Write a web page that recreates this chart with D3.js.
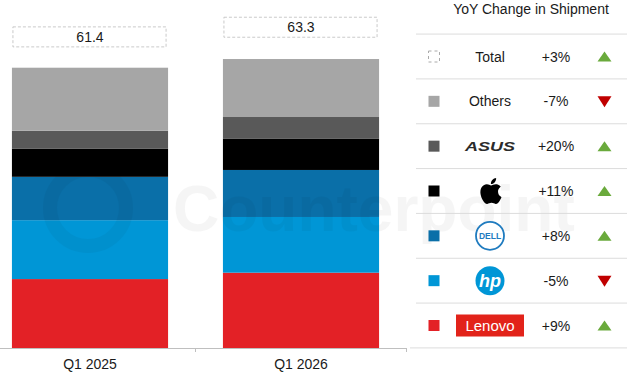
<!DOCTYPE html>
<html>
<head>
<meta charset="utf-8">
<title>PC shipments Q1</title>
<script src="https://cdn.jsdelivr.net/npm/d3@7"></script>
<style>
  body{ margin:0; background:#fff; font-family:"Liberation Sans", Arial, sans-serif; }
  svg text{ font-family:"Liberation Sans", Arial, sans-serif; }
</style>
</head>
<body>
<div id="container"></div>
<script>
// data (million units)
var quarters = ["Q1 2025", "Q1 2026"];
var vendors  = ["Lenovo", "HP", "Dell", "Apple", "ASUS", "Others"];
var q1_2025  = [15.1, 12.9, 9.5, 6.2, 3.9, 13.8];
var q1_2026  = [16.5, 12.2, 10.3, 6.9, 4.7, 12.7];
var totals   = [61.4, 63.3];
var vendorColors = ["#e32126", "#0096d6", "#0a6fa8", "#000000", "#595959", "#a6a6a6"];

// legend rows top to bottom
var legendNames  = ["Total", "Others", "ASUS", "Apple", "Dell", "HP", "Lenovo"];
var legendChange = ["+3%", "-7%", "+20%", "+11%", "+8%", "-5%", "+9%"];

var W = 627, H = 376;
var svg = d3.select("#container").append("svg")
    .attr("width", W).attr("height", H);

var x = d3.scaleBand().domain(quarters).range([-15.5, 406.5])
    .paddingInner(0.26).paddingOuter(0.13);
var y = d3.scaleLinear().domain([0, 70]).range([348, 28.45]);

// faint watermark
var wm = svg.append("g").attr("opacity", 0.035);
wm.append("circle").attr("cx", 88).attr("cy", 208).attr("r", 38)
  .attr("fill", "none").attr("stroke", "#000").attr("stroke-width", 14);
wm.append("text").attr("x", 173).attr("y", 231)
  .attr("font-size", 64).attr("font-weight", "bold").text("Counterpoint");

// stacked bars
var rows = quarters.map(function(q, i){
  var o = {quarter: q};
  var vals = i == 0 ? q1_2025 : q1_2026;
  vendors.forEach(function(v, j){ o[v] = vals[j]; });
  return o;
});
var stack = d3.stack().keys(vendors)(rows);
var color = d3.scaleOrdinal().domain(vendors).range(vendorColors);

svg.append("g").selectAll("g").data(stack).join("g")
    .attr("fill", function(d){ return color(d.key); })
  .selectAll("rect").data(function(d){ return d; }).join("rect")
    .attr("x", function(d){ return x(d.data.quarter); })
    .attr("width", x.bandwidth())
    .attr("y", function(d){ return y(d[1]); })
    .attr("height", function(d){ return y(d[0]) - y(d[1]); });

svg.select("g").raise(); // keep watermark under? (watermark drawn on top below)
wm.raise();

// total boxes
var tb = svg.append("g").selectAll("g").data(quarters).join("g")
    .attr("transform", function(d, i){ return "translate(" + x(d) + "," + y(totals[i] * 1.11) + ")"; });
tb.append("rect").attr("x", 1).attr("y", -10).attr("width", x.bandwidth() - 3).attr("height", 20)
  .attr("fill", "#fff").attr("stroke", "#bdbdbd").attr("stroke-width", 0.8)
  .attr("stroke-dasharray", "3,2");
tb.append("text").attr("x", x.bandwidth() / 2).attr("y", 5)
  .attr("text-anchor", "middle").attr("font-size", 14).attr("fill", "#1a1a1a")
  .text(function(d, i){ return totals[i]; });

// x axis
var xAxis = d3.axisBottom(x).tickSize(0).tickPadding(11);
var ax = svg.append("g").attr("transform", "translate(0," + y(0) + ")").call(xAxis);
ax.select(".domain").attr("stroke", "#bfbfbf");
ax.selectAll(".tick text").attr("font-size", 14).attr("fill", "#1a1a1a")
  .style("font-family", "'Liberation Sans', Arial, sans-serif");
ax.selectAll(".bound").data(quarters).join("line").attr("class", "bound")
  .attr("x1", function(d){ return x(d) + x.bandwidth() + (x.step() - x.bandwidth()) / 2; })
  .attr("x2", function(d){ return x(d) + x.bandwidth() + (x.step() - x.bandwidth()) / 2; })
  .attr("y1", 0).attr("y2", 4).attr("stroke", "#bfbfbf");

// legend table
var lg = svg.append("g");
lg.append("text").attr("x", 531).attr("y", 14).attr("text-anchor", "middle")
  .attr("font-size", 14).attr("fill", "#1a1a1a").text("YoY Change in Shipment");

var rowY = d3.scalePoint().domain(legendNames).range([56.5, 325.5]);
var rowH = rowY.step();
var seps = d3.range(legendNames.length + 1);
lg.selectAll(".sep").data(seps).join("line").attr("class", "sep")
  .attr("x1", function(d){ return d == legendNames.length ? 410 : 416; }).attr("x2", W)
  .attr("y1", function(d){ return 56.5 - rowH / 2 + d * rowH; })
  .attr("y2", function(d){ return 56.5 - rowH / 2 + d * rowH; })
  .attr("stroke", "#dcdcdc").attr("stroke-width", 1);

var row = lg.selectAll(".row").data(legendNames).join("g").attr("class", "row")
  .attr("transform", function(d){ return "translate(0," + rowY(d) + ")"; });

// markers
row.append("rect").attr("x", 428.5).attr("y", -5.5).attr("width", 11).attr("height", 11)
  .attr("fill", function(d){ return d == "Total" ? "none" : color(d); })
  .attr("stroke", function(d){ return d == "Total" ? "#aaa" : "none"; })
  .attr("stroke-dasharray", function(d){ return d == "Total" ? "3,3" : null; });

// change values
row.append("text").attr("x", 556).attr("y", 5).attr("text-anchor", "middle")
  .attr("font-size", 14).attr("fill", "#1a1a1a")
  .text(function(d, i){ return legendChange[i]; });

// arrows
row.append("path")
  .attr("d", function(d, i){
    return legendChange[i][0] == "+" ? "M597.5,5L604.5,-5L611.5,5Z" : "M597.5,-5L611.5,-5L604.5,6Z";
  })
  .attr("fill", function(d, i){ return legendChange[i][0] == "+" ? "#6aaa3c" : "#c00000"; });

// labels / logos
var cx = 490;
row.filter(function(d){ return d == "Total" || d == "Others"; })
  .append("text").attr("x", cx).attr("y", 5).attr("text-anchor", "middle")
  .attr("font-size", 14).attr("fill", "#1a1a1a").text(function(d){ return d; });

row.filter(function(d){ return d == "ASUS"; })
  .append("text").attr("x", cx).attr("y", 4.5).attr("text-anchor", "middle")
  .attr("font-size", 12).attr("font-weight", "bold").attr("font-style", "italic")
  .attr("textLength", 50).attr("lengthAdjust", "spacingAndGlyphs")
  .attr("fill", "#2b2b2b").text("ASUS");

row.filter(function(d){ return d == "Apple"; })
  .append("path")
  .attr("transform", "translate(" + (cx - 12) + ",-13) scale(1.08)")
  .attr("fill", "#000")
  .attr("d", "M12.152 6.896c-.948 0-2.415-1.078-3.96-1.040-2.040.027-3.910 1.183-4.961 3.014-2.117 3.675-.546 9.103 1.519 12.090 1.013 1.454 2.208 3.090 3.792 3.039 1.520-.065 2.090-.987 3.935-.987 1.831 0 2.350.987 3.960.948 1.637-.026 2.676-1.480 3.676-2.948 1.156-1.688 1.636-3.325 1.662-3.415-.039-.013-3.182-1.221-3.220-4.857-.026-3.040 2.480-4.494 2.597-4.559-1.429-2.090-3.623-2.324-4.390-2.376-2-.156-3.675 1.090-4.610 1.090zM15.530 3.830c.843-1.012 1.400-2.427 1.245-3.830-1.207.052-2.662.805-3.532 1.818-.780.896-1.454 2.338-1.273 3.714 1.338.104 2.715-.688 3.559-1.701");

var dell = row.filter(function(d){ return d == "Dell"; });
dell.append("circle").attr("cx", cx).attr("cy", 0).attr("r", 14)
  .attr("fill", "#fff").attr("stroke", "#1f7bbf").attr("stroke-width", 1.8);
dell.append("text").attr("x", cx).attr("y", 3).attr("text-anchor", "middle")
  .attr("font-size", 8.5).attr("font-weight", "bold").attr("fill", "#1f7bbf").text("DELL");

var hp = row.filter(function(d){ return d == "HP"; });
hp.append("circle").attr("cx", cx).attr("cy", 0).attr("r", 14.5).attr("fill", "#0096d6");
hp.append("text").attr("x", cx).attr("y", 6).attr("text-anchor", "middle")
  .attr("font-size", 18).attr("font-weight", "bold").attr("font-style", "italic")
  .attr("fill", "#fff").text("hp");

var len = row.filter(function(d){ return d == "Lenovo"; });
len.append("rect").attr("x", cx - 34).attr("y", -11).attr("width", 68).attr("height", 22)
  .attr("fill", "#e2231a");
len.append("text").attr("x", cx).attr("y", 5.5).attr("text-anchor", "middle")
  .attr("font-size", 15).attr("fill", "#fff").text("Lenovo");
</script>
</body>
</html>
